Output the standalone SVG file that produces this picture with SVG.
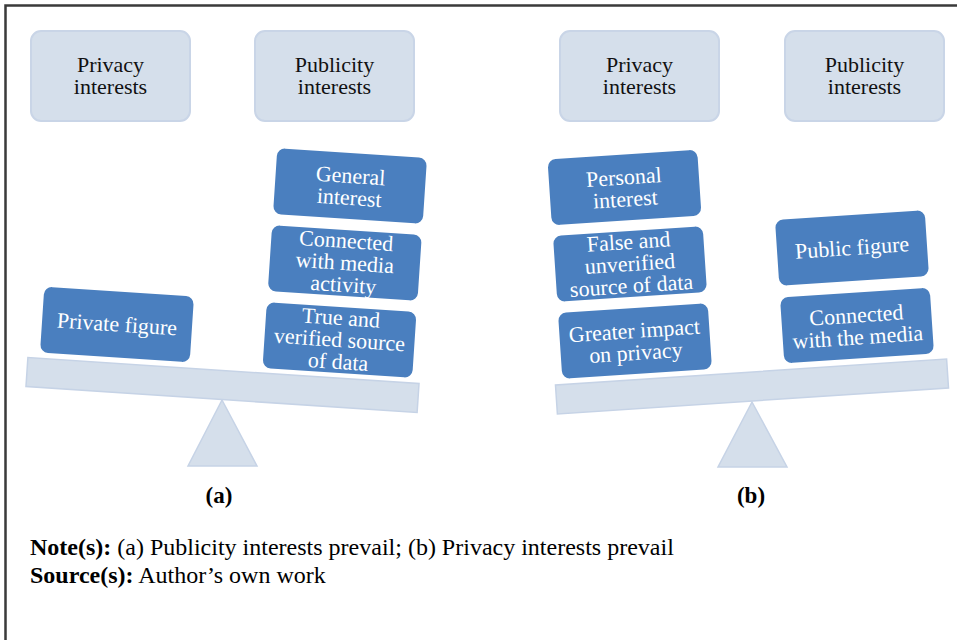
<svg xmlns="http://www.w3.org/2000/svg" width="957" height="640" viewBox="0 0 957 640">
<style>
text{font-family:"Liberation Serif","Times New Roman",serif;font-size:22px;text-anchor:middle}
.hdr rect{fill:#d5dfeb;stroke:#c9d5e7;stroke-width:2}
.hdr text{fill:#111}
.blue rect{fill:#4a7fbf}
.blue text{fill:#fff}
.beam{fill:#d5dfeb;stroke:#c6d3e6;stroke-width:1.5}
.lbl{font-weight:bold;fill:#000;font-size:23px}
.note{text-anchor:start;fill:#000;font-size:24px}
</style>
<rect x="0" y="0" width="957" height="640" fill="#fff"/>
<path d="M5.5,640 V5.5 H957" fill="none" stroke="#3a3a3a" stroke-width="2.5"/>

<!-- Panel (a) -->
<g id="a-privacy-interests" class="hdr">
<rect x="31" y="31" width="159" height="90" rx="10"/>
<text x="110.5" y="72">Privacy</text><text x="110.5" y="94">interests</text>
</g>
<g id="a-publicity-interests" class="hdr">
<rect x="255" y="31" width="159" height="90" rx="10"/>
<text x="334.5" y="72">Publicity</text><text x="334.5" y="94">interests</text>
</g>
<g id="a-fulcrum"><polygon class="beam" points="222,400 188,466 257,466"/></g>
<g id="a-beam"><rect class="beam" x="-196" y="-14.5" width="392" height="29" transform="translate(222.5,385) rotate(3.8)"/></g>
<g id="a-private-figure" class="blue" transform="translate(117,324.5) rotate(3.8)">
<rect x="-75" y="-33" width="150" height="66" rx="8"/>
<text x="0" y="7">Private figure</text>
</g>
<g id="a-general-interest" class="blue" transform="translate(350,186) rotate(3.8)">
<rect x="-75" y="-33" width="150" height="66" rx="8"/>
<text x="0" y="-3">General</text><text x="0" y="19">interest</text>
</g>
<g id="a-connected-media-activity" class="blue" transform="translate(344.8,263) rotate(3.8)">
<rect x="-75" y="-33" width="150" height="66" rx="8"/>
<text x="0" y="-15">Connected</text><text x="0" y="7">with media</text><text x="0" y="29">activity</text>
</g>
<g id="a-true-verified" class="blue" transform="translate(339.5,340) rotate(3.8)">
<rect x="-75" y="-33" width="150" height="66" rx="8"/>
<text x="0" y="-15">True and</text><text x="0" y="7">verified source</text><text x="0" y="29">of data</text>
</g>
<text class="lbl" x="219" y="503">(a)</text>

<!-- Panel (b) -->
<g id="b-privacy-interests" class="hdr">
<rect x="560" y="31" width="159" height="90" rx="10"/>
<text x="639.5" y="72">Privacy</text><text x="639.5" y="94">interests</text>
</g>
<g id="b-publicity-interests" class="hdr">
<rect x="785" y="31" width="159" height="90" rx="10"/>
<text x="864.5" y="72">Publicity</text><text x="864.5" y="94">interests</text>
</g>
<g id="b-fulcrum"><polygon class="beam" points="752,402 718,467 787,467"/></g>
<g id="b-beam"><rect class="beam" x="-196" y="-14.5" width="392" height="29" transform="translate(752,386.5) rotate(-3.8)"/></g>
<g id="b-personal-interest" class="blue" transform="translate(624.5,187.5) rotate(-3.8)">
<rect x="-75" y="-33" width="150" height="66" rx="8"/>
<text x="0" y="-3">Personal</text><text x="0" y="19">interest</text>
</g>
<g id="b-false-unverified" class="blue" transform="translate(630,264) rotate(-3.8)">
<rect x="-75" y="-33" width="150" height="66" rx="8"/>
<text x="0" y="-15">False and</text><text x="0" y="7">unverified</text><text x="0" y="29">source of data</text>
</g>
<g id="b-greater-impact" class="blue" transform="translate(635,341) rotate(-3.8)">
<rect x="-75" y="-33" width="150" height="66" rx="8"/>
<text x="0" y="-3">Greater impact</text><text x="0" y="19">on privacy</text>
</g>
<g id="b-public-figure" class="blue" transform="translate(852,248) rotate(-3.8)">
<rect x="-75" y="-33" width="150" height="66" rx="8"/>
<text x="0" y="7">Public figure</text>
</g>
<g id="b-connected-media" class="blue" transform="translate(857,325.5) rotate(-3.8)">
<rect x="-75" y="-33" width="150" height="66" rx="8"/>
<text x="0" y="-3">Connected</text><text x="0" y="19">with the media</text>
</g>
<text class="lbl" x="751" y="503">(b)</text>

<text class="note" x="30" y="555"><tspan font-weight="bold">Note(s):</tspan> (a) Publicity interests prevail; (b) Privacy interests prevail</text>
<text class="note" x="30" y="583"><tspan font-weight="bold">Source(s):</tspan> Author’s own work</text>
</svg>
